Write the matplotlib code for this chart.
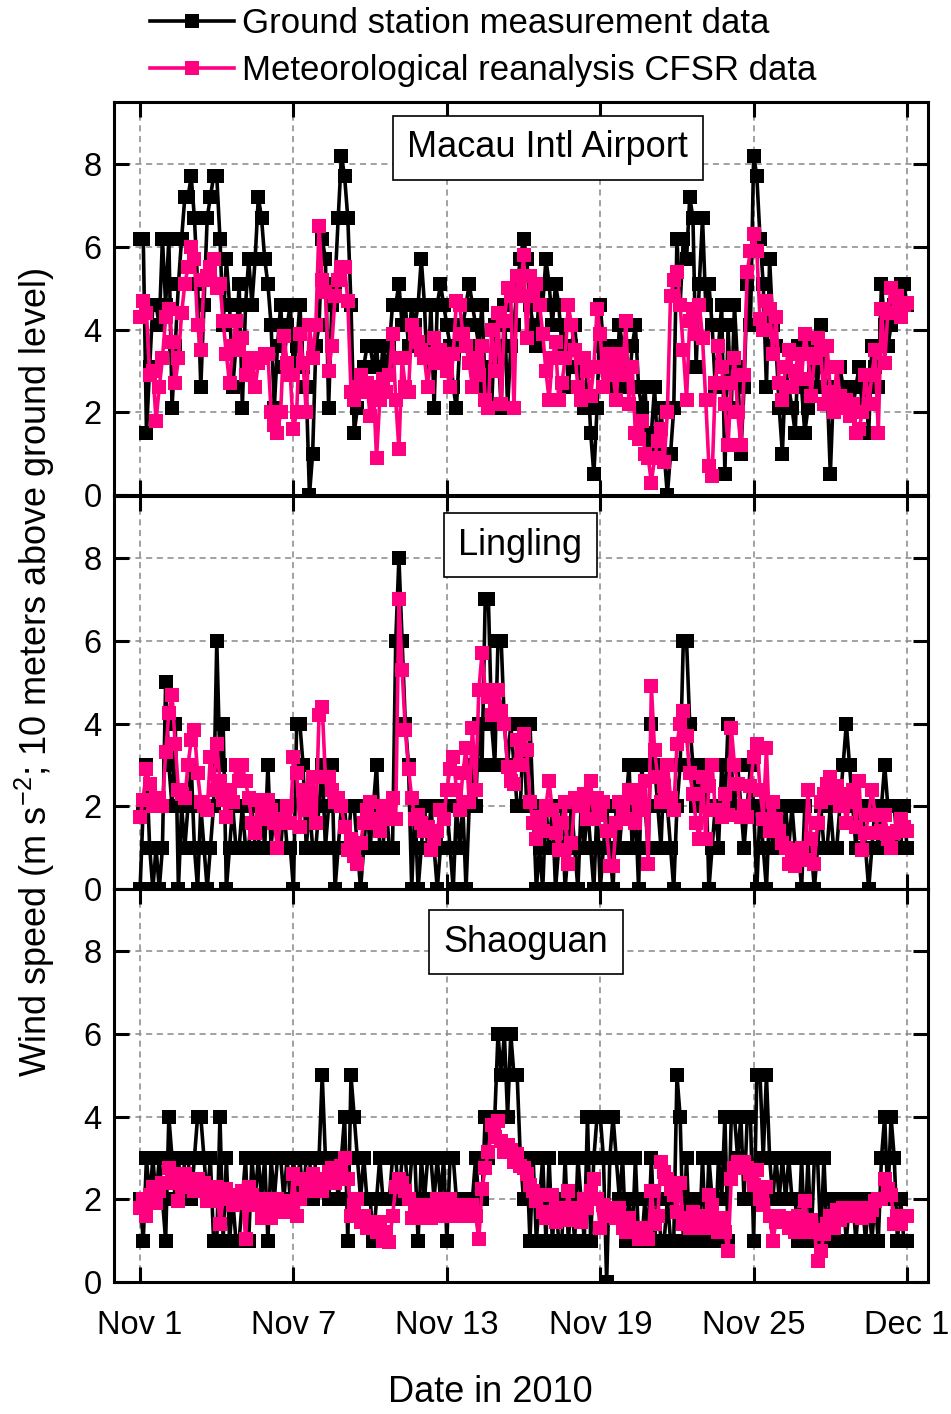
import matplotlib
matplotlib.use("Agg")
import matplotlib.pyplot as plt
import numpy as np

plt.rcParams['font.family'] = ['Liberation Sans', 'DejaVu Sans']
plt.rcParams['mathtext.default'] = 'regular'

# 3-hourly samples, Nov 1 00:00 -> Dec 1 00:00 (one row per day)
macau_obs = [
    6.2, 6.2, 1.5, 3.1, 4.6, 4.6, 4.1, 6.2,
    4.6, 6.2, 2.1, 3.6, 5.1, 6.2, 7.2, 7.2,
    7.7, 6.7, 5.1, 2.6, 4.6, 6.7, 7.2, 7.7,
    7.7, 6.2, 4.1, 5.7, 4.6, 2.6, 3.6, 5.1,
    2.1, 4.6, 5.7, 4.6, 5.7, 7.2, 6.7, 5.7,
    5.1, 4.1, 2.1, 3.6, 4.6, 3.1, 4.1, 4.6,
    3.1, 3.6, 4.6, 3.1, 2.6, 0.0, 1.0, 3.6,
    4.1, 6.2, 5.7, 2.1, 4.6, 5.1, 6.7, 8.2,
    7.7, 6.7, 4.6, 1.5, 2.1, 2.6, 3.1, 3.6,
    3.6, 3.1, 3.6, 2.6, 3.6, 3.1, 3.6, 4.6,
    4.6, 5.1, 4.1, 4.6, 3.6, 4.6, 4.1, 4.6,
    5.7, 4.6, 2.6, 4.6, 2.1, 4.6, 5.1, 4.6,
    4.1, 3.6, 2.6, 2.1, 3.6, 4.1, 4.6, 5.1,
    4.6, 4.1, 3.6, 4.6, 2.6, 3.1, 2.1, 4.1,
    3.6, 2.1, 4.6, 2.1, 3.6, 4.1, 5.1, 5.7,
    6.2, 5.7, 4.6, 4.1, 3.6, 5.1, 4.6, 5.7,
    5.1, 4.1, 5.1, 4.6, 3.6, 4.1, 2.6, 3.6,
    4.1, 3.1, 2.6, 2.1, 3.1, 1.5, 0.5, 2.1,
    4.6, 3.6, 2.6, 3.1, 3.6, 2.6, 4.1, 3.6,
    3.1, 2.6, 3.6, 4.1, 2.6, 2.1, 2.6, 1.0,
    1.5, 2.6, 1.0, 2.1, 1.0, 0.0, 1.0, 2.1,
    6.2, 4.6, 6.2, 5.7, 7.2, 6.7, 3.1, 5.1,
    6.7, 4.6, 5.1, 4.1, 2.6, 3.6, 4.6, 0.5,
    4.1, 2.1, 4.6, 3.1, 1.0, 2.6, 5.1, 4.1,
    8.2, 7.7, 6.2, 5.1, 2.6, 5.7, 4.1, 3.6,
    2.1, 1.0, 3.1, 2.6, 2.1, 1.5, 3.6, 2.6,
    1.5, 2.1, 3.6, 3.1, 2.6, 4.1, 3.1, 2.6,
    0.5, 2.6, 2.1, 3.1, 2.6, 2.1, 2.6, 2.1,
    2.6, 3.1, 2.1, 2.6, 1.5, 3.6, 3.1, 2.6,
    5.1, 4.1, 3.6, 4.1, 4.6, 4.6, 5.1, 5.1,
    4.6,
]
macau_cfsr = [
    4.3, 4.7, 4.4, 2.9, 3.0, 1.8, 2.6, 3.3,
    4.3, 4.5, 3.7, 2.7, 3.3, 4.4, 5.1, 5.5,
    6.0, 5.7, 4.1, 3.5, 5.2, 5.3, 5.5, 5.7,
    5.0, 5.1, 4.2, 3.4, 2.7, 3.6, 4.2, 3.5,
    3.8, 2.9, 3.2, 3.3, 2.6, 3.2, 3.3, 3.4,
    3.4, 2.0, 1.7, 1.5, 2.0, 3.85, 3.2, 2.9,
    1.6, 2.0, 3.9, 3.2, 2.0, 4.1, 3.3, 4.1,
    6.5, 5.2, 4.9, 3.0, 3.6, 4.8, 5.2, 5.5,
    5.5, 4.7, 2.5, 2.3, 2.6, 2.9, 2.5, 2.7,
    1.9, 2.6, 0.9, 2.3, 2.8, 2.5, 2.9, 3.9,
    2.3, 1.1, 3.3, 2.6, 2.5, 4.1, 3.9, 3.7,
    3.5, 3.3, 2.6, 3.4, 3.8, 3.2, 3.5, 3.3,
    3.0, 2.6, 3.4, 4.7, 4.6, 3.9, 3.6, 3.2,
    2.6, 3.3, 2.9, 3.6, 2.3, 2.1, 4.0, 3.0,
    4.4, 2.2, 4.2, 5.0, 4.8, 2.1, 5.3, 4.8,
    5.8, 3.8, 5.3, 4.8, 5.1, 4.6, 3.9, 3.0,
    2.3, 3.3, 3.7, 2.3, 2.7, 3.3, 4.6, 4.1,
    3.5, 2.6, 2.3, 3.3, 3.0, 2.4, 3.1, 4.5,
    3.9, 2.6, 3.4, 3.1, 2.9, 2.3, 3.4, 2.9,
    4.2, 2.2, 3.1, 1.5, 1.35, 1.8, 1.0, 0.9,
    0.3, 0.9, 1.3, 1.6, 0.8, 2.0, 4.8, 5.2,
    5.4, 4.6, 3.5, 2.3, 4.2, 4.5, 3.9, 4.6,
    3.8, 2.3, 0.7, 0.45, 2.7, 3.6, 3.1, 2.2,
    1.2, 2.7, 3.3, 2.0, 1.2, 2.9, 5.4, 5.9,
    6.3, 5.9, 4.25, 4.0, 4.7, 4.5, 3.4, 4.3,
    2.7, 2.3, 3.1, 3.5, 2.6, 3.0, 3.4, 2.8,
    3.9, 3.4, 2.4, 3.3, 3.8, 3.5, 2.2, 3.6,
    2.5, 2.0, 3.1, 2.4, 2.1, 2.3, 1.9, 2.2,
    1.5, 1.6, 2.0, 2.9, 2.2, 2.9, 3.5, 1.5,
    4.5, 3.2, 4.4, 5.0, 4.4, 4.8, 4.3, 4.6,
    4.65,
]
lingling_obs = [
    0, 2, 3, 1, 0, 1, 0, 1,
    5, 3, 2, 4, 0, 2, 1, 2,
    3, 1, 0, 2, 1, 0, 1, 2,
    6, 3, 4, 0, 1, 2, 1, 1,
    2, 1, 1, 2, 1, 1, 2, 1,
    3, 1, 2, 1, 1, 2, 1, 1,
    0, 4, 4, 3, 1, 2, 1, 1,
    2, 3, 1, 2, 3, 0, 1, 2,
    2, 1, 2, 2, 1, 0, 1, 2,
    1, 2, 3, 1, 1, 2, 1, 1,
    6, 8, 6, 4, 3, 0, 2, 0,
    1, 2, 1, 2, 1, 0, 1, 2,
    2, 1, 0, 2, 1, 2, 0, 2,
    3, 2, 4, 3, 7, 7, 4, 3,
    6, 6, 4, 3, 4, 3, 2, 2,
    4, 2, 4, 2, 0, 1, 0, 2,
    1, 2, 0, 1, 2, 0, 1, 2,
    1, 0, 2, 1, 2, 1, 0, 2,
    0, 1, 2, 1, 0, 2, 1, 2,
    2, 3, 1, 2, 0, 3, 2, 1,
    4, 3, 2, 1, 3, 2, 1, 0,
    2, 3, 6, 6, 4, 3, 2, 3,
    2, 3, 0, 1, 2, 1, 3, 2,
    4, 3, 2, 3, 2, 1, 2, 3,
    2, 0, 2, 1, 0, 2, 1, 2,
    1, 1, 2, 1, 2, 1, 1, 0,
    2, 1, 1, 0, 1, 2, 1, 1,
    2, 1, 1, 2, 3, 4, 3, 2,
    1, 2, 2, 1, 0, 1, 2, 1,
    2, 3, 2, 2, 2, 1, 1, 2,
    1,
]
lingling_cfsr = [
    1.75, 2.15, 2.9, 2.55, 2.0, 2.2, 2.2, 2.0,
    3.3, 4.25, 4.7, 3.5, 2.4, 2.3, 2.2, 3.0,
    3.6, 3.85, 2.8, 2.1, 2.0, 1.9, 3.2, 2.4,
    3.5, 2.6, 2.15, 1.75, 2.4, 2.1, 3.0, 2.6,
    3.0, 2.6, 2.2, 1.6, 1.35, 2.15, 1.9, 1.7,
    2.15, 1.9, 1.6, 1.0, 1.7, 1.6, 2.0, 1.6,
    3.2, 2.8, 1.5, 2.4, 2.1, 1.9, 2.7, 1.6,
    4.2, 4.4, 2.7, 2.7, 2.4, 2.1, 2.2, 2.0,
    1.5, 0.95, 1.2, 0.8, 0.6, 1.1, 1.6, 1.9,
    2.1, 1.6, 1.7, 1.4, 2.0, 1.8, 1.7, 2.2,
    1.7, 7.0, 5.3, 3.85, 2.9, 2.2, 1.7, 1.8,
    1.6, 1.4, 1.5, 0.95, 1.2, 1.4, 1.9, 1.7,
    2.4, 2.9, 3.2, 2.4, 1.9, 2.8, 3.4, 2.1,
    3.9, 2.4, 4.8, 5.7, 4.8, 4.65, 4.2, 4.4,
    4.8, 4.3, 4.0, 2.95, 2.6, 2.55, 3.6, 3.0,
    3.75, 3.35, 2.1, 1.6, 1.2, 1.75, 1.4, 2.0,
    2.6, 1.9, 1.35, 0.95, 1.6, 2.1, 0.6, 1.1,
    2.2, 2.15, 2.0, 2.3, 1.7, 2.6, 1.7, 2.2,
    1.8, 2.1, 1.4, 0.55, 0.55, 1.6, 2.1, 1.9,
    1.7, 2.4, 2.2, 1.6, 2.4, 1.9, 2.6, 0.6,
    4.9, 3.35, 2.7, 2.1, 2.5, 3.0, 2.2, 1.9,
    3.5, 4.0, 4.3, 3.7, 2.8, 2.3, 1.6, 1.2,
    2.7, 1.2, 2.5, 3.0, 1.9, 1.9, 1.75, 2.3,
    1.8, 3.9, 3.0, 2.55, 1.75, 2.0, 1.75, 2.5,
    3.2, 3.5, 2.4, 1.7, 3.4, 1.4, 2.1, 1.7,
    1.4, 1.1, 1.0, 0.6, 0.8, 0.55, 0.95, 1.0,
    0.7, 2.4, 1.2, 0.6, 1.6, 2.1, 2.3, 2.55,
    2.7, 2.2, 2.5, 2.0, 2.3, 1.6, 2.1, 2.4,
    1.5, 2.6, 0.95, 1.35, 1.8, 2.4, 1.8, 1.35,
    1.4, 1.8, 1.2, 1.0, 1.35, 1.4, 1.7, 1.5,
    1.4,
]
shaoguan_obs = [
    2, 1, 3, 2, 3, 2, 3, 2,
    1, 4, 3, 2, 3, 2, 3, 3,
    2, 3, 4, 4, 3, 2, 3, 1,
    1, 4, 1, 3, 1, 2, 1, 1,
    2, 3, 1, 3, 2, 3, 2, 3,
    1, 3, 2, 3, 3, 2, 3, 2,
    3, 2, 3, 2, 3, 3, 2, 3,
    3, 5, 3, 2, 3, 3, 2, 3,
    4, 1, 5, 4, 3, 2, 3, 2,
    2, 1, 2, 3, 2, 2, 2, 3,
    3, 2, 3, 3, 2, 3, 3, 1,
    3, 2, 3, 3, 2, 3, 2, 3,
    1, 3, 3, 2, 2, 2, 2, 2,
    2, 3, 2, 2, 4, 3, 4, 4,
    6, 5, 6, 4, 6, 5, 5, 3,
    2, 3, 1, 3, 1, 2, 3, 1,
    3, 1, 2, 1, 1, 3, 1, 2,
    1, 3, 2, 1, 4, 1, 3, 4,
    4, 3, 0, 3, 4, 3, 2, 3,
    1, 2, 1, 3, 1, 1, 2, 1,
    3, 1, 2, 1, 1, 2, 1, 1,
    5, 4, 1, 3, 1, 2, 1, 1,
    3, 1, 3, 2, 1, 3, 2, 4,
    1, 4, 4, 3, 4, 2, 4, 4,
    1, 5, 5, 3, 5, 3, 2, 3,
    2, 3, 2, 3, 2, 2, 1, 3,
    1, 3, 1, 3, 3, 1, 3, 1,
    2, 2, 1, 2, 2, 1, 2, 2,
    1, 2, 2, 1, 2, 1, 2, 1,
    3, 4, 2, 4, 3, 1, 2, 1,
    1,
]
shaoguan_cfsr = [
    1.8, 2.0, 1.6, 2.1, 2.3, 1.9, 2.2, 2.4,
    2.4, 2.75, 2.6, 2.4, 1.95, 2.5, 2.6, 2.3,
    2.4, 2.2, 2.5, 2.3, 2.4, 1.95, 2.1, 1.95,
    2.3, 1.4, 2.0, 2.25, 2.1, 1.85, 2.0, 1.9,
    2.2, 1.05, 2.3, 2.1, 1.85, 2.0, 1.55, 1.7,
    2.0, 1.55, 1.95, 2.0, 1.7, 1.9, 1.95, 1.7,
    2.6, 1.6, 2.0, 2.5, 2.2, 2.4, 2.6, 2.2,
    2.4, 2.2, 2.5, 2.65, 2.75, 2.4, 2.6, 2.8,
    3.0, 2.5, 1.6, 1.85, 2.0, 1.45, 1.6, 1.3,
    1.45, 1.3, 1.2, 1.45, 1.0, 1.2, 0.97, 1.6,
    2.3, 2.5, 2.4, 2.2, 2.0, 1.55, 1.7, 1.55,
    1.85, 1.6, 1.7, 1.55, 1.85, 2.0, 1.7, 1.6,
    1.6, 2.0, 1.85, 1.6, 1.85, 1.7, 1.6, 1.7,
    1.85, 1.6, 1.05, 2.25, 2.75, 3.15, 3.8, 3.5,
    3.9, 3.4, 3.15, 3.3, 3.2, 2.9, 3.1, 2.8,
    2.75, 2.6, 2.35, 2.2, 1.95, 2.1, 1.7, 1.55,
    1.7, 2.1, 1.45, 1.6, 1.8, 1.5, 2.2, 1.6,
    1.8, 1.5, 1.45, 2.0, 1.8, 2.2, 2.5, 2.0,
    1.3, 1.85, 1.6, 1.8, 1.7, 1.55, 1.8, 1.3,
    1.2, 1.55, 1.3, 1.2, 1.05, 1.15, 1.3, 1.05,
    2.2, 1.4, 1.6, 2.9, 2.65, 2.5, 2.25, 2.1,
    1.7, 2.4, 1.4, 1.55, 1.3, 1.7, 1.55, 1.3,
    1.6, 1.3, 2.1, 1.85, 1.55, 1.2, 1.55, 1.2,
    0.75, 2.5, 2.75, 2.9, 2.8, 2.9, 2.75, 2.6,
    2.35, 2.7, 2.0, 1.85, 2.3, 1.6, 1.0, 1.45,
    1.6, 1.45, 1.55, 1.3, 1.45, 1.2, 1.6, 1.45,
    1.95, 1.2, 1.5, 1.25, 0.5, 0.75, 1.15, 1.4,
    1.6, 1.3, 1.75, 1.5, 1.8, 1.7, 1.8, 1.6,
    1.7, 1.8, 1.55, 1.8, 1.6, 1.75, 1.95, 2.0,
    2.0, 2.5, 2.25, 2.1, 1.4, 1.6, 1.4, 1.6,
    1.6,
]

stations = ['Macau Intl Airport', 'Lingling', 'Shaoguan']
obs = [macau_obs, lingling_obs, shaoguan_obs]
cfsr = [macau_cfsr, lingling_cfsr, shaoguan_cfsr]
title_pos = [(0.533, 0.883), (0.499, 0.875), (0.506, 0.865)]

tick_labels = ['Nov 1', 'Nov 7', 'Nov 13', 'Nov 19', 'Nov 25', 'Dec 1']
tick_days = [0, 6, 12, 18, 24, 30]

days = np.arange(len(macau_obs)) / 8.0
pink = '#FF0080'

W, H = 951, 1414
fig = plt.figure(figsize=(W / 100, H / 100), dpi=100)

left, right = 114, 928
tops = [102, 496, 889]
ph = 393

for i in range(3):
    ax = fig.add_axes([left / W, 1 - (tops[i] + ph) / H, (right - left) / W, ph / H])
    l1, = ax.plot(days, obs[i], color='black', lw=2.6, marker='s', ms=10, mew=0,
                  label='Ground station measurement data')
    l2, = ax.plot(days, cfsr[i], color=pink, lw=2.6, marker='s', ms=10, mew=0,
                  label='Meteorological reanalysis CFSR data')
    ax.set_xlim(-1.02, 30.82)
    ax.set_ylim(0, 9.5)
    ax.set_yticks([0, 2, 4, 6, 8])
    ax.set_xticks(tick_days)
    if i == 2:
        ax.set_xticklabels(tick_labels)
    else:
        ax.set_xticklabels([])
    ax.grid(True, color='#888888', ls=(0, (4, 3)), lw=1.1)
    ax.set_axisbelow(True)
    ax.tick_params(direction='in', top=True, right=True, length=11, width=2.2,
                   labelsize=23.5)
    ax.tick_params(axis='y', pad=9)
    ax.tick_params(axis='x', pad=20)
    for s in ax.spines.values():
        s.set_linewidth(2.2)
    ax.text(title_pos[i][0], title_pos[i][1], stations[i], transform=ax.transAxes,
            ha='center', va='center', fontsize=26, zorder=5,
            bbox=dict(boxstyle='square,pad=0.4', fc='white', ec='black', lw=1.2))

fig.legend(handles=[l1, l2], loc='upper left', bbox_to_anchor=(147 / W, 1 - 4 / H),
           frameon=False, fontsize=25, handlelength=2.4, handletextpad=0.25,
           labelspacing=0.4, borderaxespad=0, borderpad=0.1)

fig.text(35 / W, 1 - 672 / H, 'Wind speed (m s$^{-2}$; 10 meters above ground level)',
         rotation=90, ha='center', va='center', fontsize=26)
fig.text(490 / W, 1 - 1393 / H, 'Date in 2010', ha='center', va='center', fontsize=26)

fig.savefig('out.png', dpi=100)
